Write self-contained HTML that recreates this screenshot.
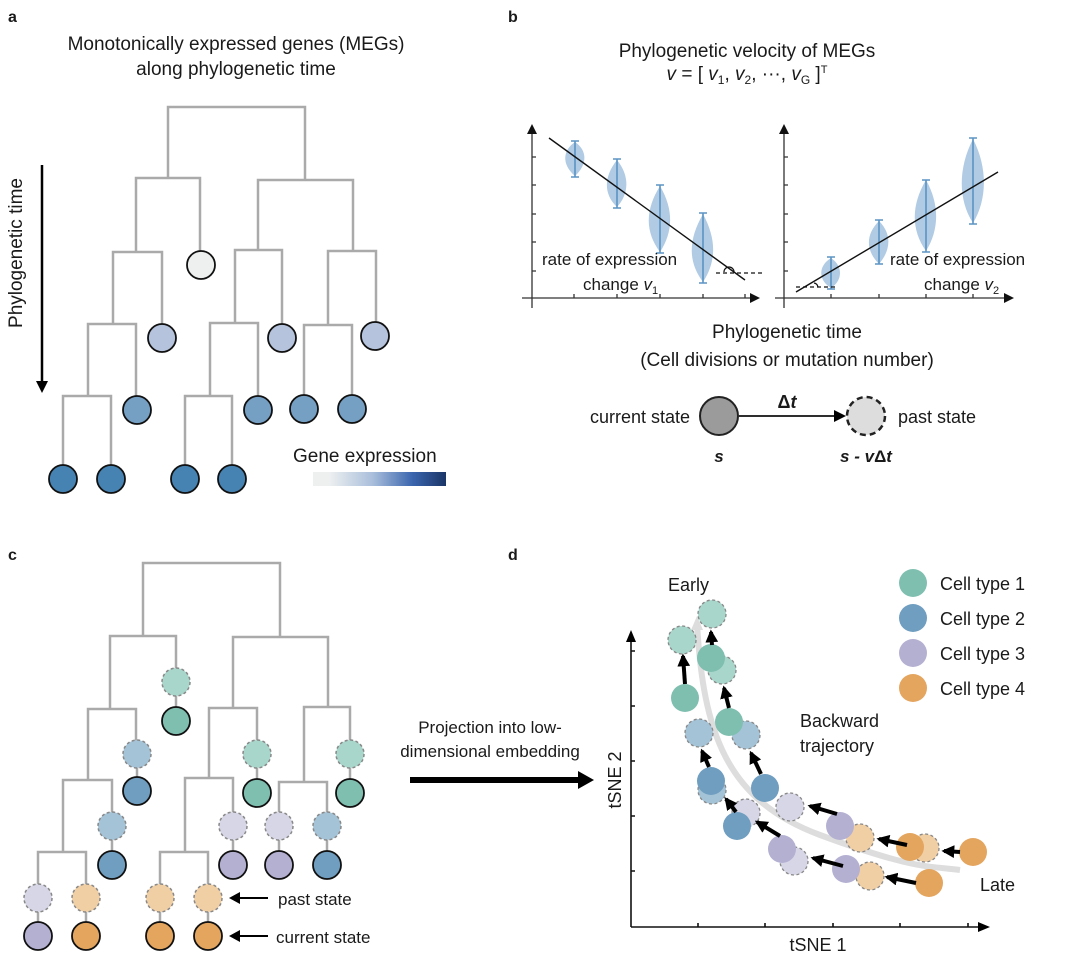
<!DOCTYPE html>
<html><head><meta charset="utf-8"><style>
body{margin:0;background:#fff}
svg text{font-family:"Liberation Sans",sans-serif;fill:#1a1a1a}
</style></head><body>
<svg width="1080" height="972" viewBox="0 0 1080 972" xmlns="http://www.w3.org/2000/svg">
<defs>
<linearGradient id="ge" x1="0" x2="1"><stop offset="0" stop-color="#eef0f0"/><stop offset="0.12" stop-color="#eef0f0"/><stop offset="0.45" stop-color="#a9bedb"/><stop offset="0.75" stop-color="#3a65ae"/><stop offset="1" stop-color="#1b3566"/></linearGradient>
<marker id="ah2" viewBox="0 0 10 10" refX="8" refY="5" markerWidth="3.2" markerHeight="3.2" orient="auto"><path d="M0,0L10,5L0,10z" fill="#000"/></marker>
</defs>
<g font-weight="bold" font-size="16"><text x="8" y="22">a</text><text x="508" y="22">b</text><text x="8" y="560">c</text><text x="508" y="560">d</text></g>

<!-- Panel a -->
<text x="236" y="50" font-size="19" text-anchor="middle">Monotonically expressed genes (MEGs)</text>
<text x="236" y="75" font-size="19" text-anchor="middle">along phylogenetic time</text>
<g stroke="#aaa" stroke-width="2.5" fill="none">
<path d="M168,178V107H305V180"/>
<path d="M136,252V178H200V251"/><path d="M258,250V180H353V251"/>
<path d="M113,324V252H162V324"/><path d="M235,323V250H282V324"/><path d="M328,325V251H376V322"/>
<path d="M88,396V324H136V396"/><path d="M210,396V323H258V396"/><path d="M304,395V325H352V395"/>
<path d="M63,465V396H111V465"/><path d="M185,465V396H232V465"/>
</g>
<g stroke="#111" stroke-width="1.8">
<circle cx="201" cy="265" r="14" fill="#eef0f0"/>
<circle cx="162" cy="338" r="14" fill="#b5c3dc"/><circle cx="282" cy="338" r="14" fill="#b5c3dc"/><circle cx="375" cy="336" r="14" fill="#b5c3dc"/>
<g fill="#769fc4"><circle cx="137" cy="410" r="14"/><circle cx="258" cy="410" r="14"/><circle cx="304" cy="409" r="14"/><circle cx="352" cy="409" r="14"/></g>
<g fill="#4683b2"><circle cx="63" cy="479" r="14"/><circle cx="111" cy="479" r="14"/><circle cx="185" cy="479" r="14"/><circle cx="232" cy="479" r="14"/></g>
</g>
<line x1="42" y1="165" x2="42" y2="385" stroke="#000" stroke-width="2.5"/><path d="M36,381L42,393L48,381z"/>
<text transform="translate(22,253) rotate(-90)" font-size="19" text-anchor="middle">Phylogenetic time</text>
<text x="293" y="462" font-size="19">Gene expression</text>
<rect x="313" y="472" width="133" height="14" fill="url(#ge)"/>

<!-- Panel b -->
<text x="747" y="57" font-size="19" text-anchor="middle">Phylogenetic velocity of MEGs</text>
<text x="747" y="80" font-size="19" text-anchor="middle"><tspan font-style="italic">v</tspan> = [ <tspan font-style="italic">v</tspan><tspan font-size="12" dy="4">1</tspan><tspan dy="-4">, </tspan><tspan font-style="italic">v</tspan><tspan font-size="12" dy="4">2</tspan><tspan dy="-4">, ···, </tspan><tspan font-style="italic">v</tspan><tspan font-size="12" dy="4">G</tspan><tspan dy="-4"> ]</tspan><tspan font-size="11" dy="-7">T</tspan></text>
<g stroke="#333" stroke-width="1.3" fill="none">
<path d="M532,308V132"/><path d="M522,298H752"/>
<path d="M784,308V132"/><path d="M775,298H1006"/>
<path d="M532,157h4M532,185h4M532,214h4M532,242h4M532,271h4"/>
<path d="M784,157h4M784,185h4M784,214h4M784,242h4M784,271h4"/>
<path d="M574,298v-4M617,298v-4M660,298v-4M703,298v-4M745,298v-4"/>
<path d="M831,298v-4M879,298v-4M926,298v-4M973,298v-4"/>
</g>
<path d="M527,134L532,124L537,134z M779,134L784,124L789,134z M750,293L760,298L750,303z M1004,293L1014,298L1004,303z" fill="#111"/>
<g fill="#b0cbe3" stroke="none">
<path d="M575,142C563,150 561,164 575,176C588,164 587,150 575,142z"/>
<path d="M617,160C604,176 603,194 617,207C629,194 630,176 617,160z"/>
<path d="M660,186C645,210 645,232 660,252C673,232 674,210 660,186z"/>
<path d="M703,214C688,240 688,262 703,282C716,262 717,240 703,214z"/>
<path d="M831,258C818,266 818,280 831,288C843,280 843,266 831,258z"/>
<path d="M879,221C866,234 865,250 879,264C891,250 892,234 879,221z"/>
<path d="M926,180C911,205 911,230 926,251C939,230 940,205 926,180z"/>
<path d="M973,139C958,168 958,200 973,223C987,200 988,168 973,139z"/>
</g>
<g stroke="#5b93c4" stroke-width="1.6" fill="none">
<path d="M575,141V177M571,141h8M571,177h8"/>
<path d="M617,159V208M613,159h8M613,208h8"/>
<path d="M660,185V253M656,185h8M656,253h8"/>
<path d="M703,213V283M699,213h8M699,283h8"/>
<path d="M831,257V289M827,257h8M827,289h8"/>
<path d="M879,220V264M875,220h8M875,264h8"/>
<path d="M926,180V252M922,180h8M922,252h8"/>
<path d="M973,138V224M969,138h8M969,224h8"/>
</g>
<line x1="549" y1="138" x2="745" y2="280" stroke="#111" stroke-width="1.4"/>
<line x1="796" y1="292" x2="998" y2="172" stroke="#111" stroke-width="1.4"/>
<g stroke="#111" stroke-width="1.2" stroke-dasharray="4,3" fill="none"><path d="M716,273H762"/><path d="M796,287H838"/></g>
<path d="M734,272a5,5 0 0,0 -10,0" stroke="#111" stroke-width="1.2" fill="none"/>
<path d="M814,283a5,5 0 0,1 4,4" stroke="#111" stroke-width="1.2" fill="none"/>
<g font-size="17">
<text x="542" y="265">rate of expression</text>
<text x="583" y="290">change <tspan font-style="italic">v</tspan><tspan font-size="11" dy="4">1</tspan></text>
<text x="890" y="265">rate of expression</text>
<text x="924" y="290">change <tspan font-style="italic">v</tspan><tspan font-size="11" dy="4">2</tspan></text>
</g>
<text x="787" y="338" font-size="19" text-anchor="middle">Phylogenetic time</text>
<text x="787" y="366" font-size="19" text-anchor="middle">(Cell divisions or mutation number)</text>
<line x1="739" y1="416" x2="838" y2="416" stroke="#111" stroke-width="1.8"/><path d="M834,410L846,416L834,422z"/>
<circle cx="719" cy="416" r="19" fill="#9b9b9b" stroke="#222" stroke-width="2"/>
<circle cx="866" cy="416" r="19" fill="#ddd" stroke="#222" stroke-width="2.5" stroke-dasharray="6,4"/>
<text x="787" y="408" font-size="18" font-weight="bold" text-anchor="middle">Δ<tspan font-style="italic">t</tspan></text>
<text x="690" y="423" font-size="18" text-anchor="end">current state</text>
<text x="898" y="423" font-size="18">past state</text>
<text x="719" y="462" font-size="17" font-weight="bold" font-style="italic" text-anchor="middle">s</text>
<text x="866" y="462" font-size="17" font-weight="bold" font-style="italic" text-anchor="middle">s - v<tspan font-style="normal">Δ</tspan>t</text>

<!-- Panel c -->
<g stroke="#aaa" stroke-width="2.5" fill="none">
<path d="M143,636V563H280V637"/>
<path d="M110,709V636H176V682"/><path d="M233,708V637H328V707"/>
<path d="M88,780V709H136V754"/><path d="M209,778V708H257V754"/><path d="M304,782V707H350V754"/>
<path d="M63,852V780H112V826"/><path d="M185,852V778H233V826"/><path d="M279,826V782H327V826"/>
<path d="M38,898V852H86V898"/><path d="M160,898V852H208V898"/>
<path d="M176,682V721M137,754V791M257,754V793M350,754V793M112,826V865M233,826V865M279,826V865M327,826V865M38,898V936M86,898V936M160,898V936M208,898V936"/>
</g>
<g stroke="#888" stroke-width="1.5" stroke-dasharray="3,2.5">
<circle cx="176" cy="682" r="14" fill="#a8d6cb"/><circle cx="257" cy="754" r="14" fill="#a8d6cb"/><circle cx="350" cy="754" r="14" fill="#a8d6cb"/>
<circle cx="137" cy="754" r="14" fill="#a4c3d6"/><circle cx="112" cy="826" r="14" fill="#a4c3d6"/><circle cx="327" cy="826" r="14" fill="#a4c3d6"/>
<circle cx="233" cy="826" r="14" fill="#d6d6e6"/><circle cx="279" cy="826" r="14" fill="#d6d6e6"/><circle cx="38" cy="898" r="14" fill="#d6d6e6"/>
<circle cx="86" cy="898" r="14" fill="#f1cfa5"/><circle cx="160" cy="898" r="14" fill="#f1cfa5"/><circle cx="208" cy="898" r="14" fill="#f1cfa5"/>
</g>
<g stroke="#111" stroke-width="1.8">
<circle cx="176" cy="721" r="14" fill="#7fbfb0"/><circle cx="257" cy="793" r="14" fill="#7fbfb0"/><circle cx="350" cy="793" r="14" fill="#7fbfb0"/>
<circle cx="137" cy="791" r="14" fill="#6f9ec0"/><circle cx="112" cy="865" r="14" fill="#6f9ec0"/><circle cx="327" cy="865" r="14" fill="#6f9ec0"/>
<circle cx="233" cy="865" r="14" fill="#b4b0d2"/><circle cx="279" cy="865" r="14" fill="#b4b0d2"/><circle cx="38" cy="936" r="14" fill="#b4b0d2"/>
<circle cx="86" cy="936" r="14" fill="#e4a55e"/><circle cx="160" cy="936" r="14" fill="#e4a55e"/><circle cx="208" cy="936" r="14" fill="#e4a55e"/>
</g>
<g stroke="#000" stroke-width="2"><line x1="268" y1="898" x2="236" y2="898"/><line x1="268" y1="936" x2="236" y2="936"/></g>
<path d="M240,892L229,898L240,904z M240,930L229,936L240,942z"/>
<text x="278" y="905" font-size="17">past state</text>
<text x="276" y="943" font-size="17">current state</text>
<text x="490" y="733" font-size="17" text-anchor="middle">Projection into low-</text>
<text x="490" y="757" font-size="17" text-anchor="middle">dimensional embedding</text>
<line x1="410" y1="780" x2="582" y2="780" stroke="#000" stroke-width="6"/><path d="M578,771L594,780L578,789z"/>

<!-- Panel d -->
<path d="M697,623C703,730 725,800 820,835S930,866 960,870" stroke="#ddd" stroke-width="6" fill="none"/>
<path d="M691,630L697,616L703,630z" fill="#ddd"/>
<g stroke="#111" stroke-width="1.6" fill="none">
<path d="M631,927V640"/><path d="M631,927H980"/>
<path d="M631,651h4M631,706h4M631,761h4M631,816h4M631,871h4"/>
<path d="M698,927v-4M765,927v-4M833,927v-4M900,927v-4M968,927v-4"/>
</g>
<path d="M626,642L631,630L636,642z M978,922L990,927L978,932z"/>
<g stroke="#888" stroke-width="1.3" stroke-dasharray="3,2.5">
<circle cx="712" cy="614" r="14" fill="#a8d6cb"/><circle cx="682" cy="640" r="14" fill="#a8d6cb"/><circle cx="722" cy="670" r="14" fill="#a8d6cb"/>
<circle cx="699" cy="733" r="14" fill="#a4c3d6"/><circle cx="746" cy="735" r="14" fill="#a4c3d6"/><circle cx="712" cy="790" r="14" fill="#a4c3d6"/>
<circle cx="746" cy="813" r="14" fill="#d6d6e6"/><circle cx="790" cy="807" r="14" fill="#d6d6e6"/><circle cx="794" cy="861" r="14" fill="#d6d6e6"/>
<circle cx="860" cy="838" r="14" fill="#f1cfa5"/><circle cx="925" cy="848" r="14" fill="#f1cfa5"/><circle cx="870" cy="876" r="14" fill="#f1cfa5"/>
</g>
<g stroke="none">
<circle cx="711" cy="658" r="14" fill="#7fbfb0"/><circle cx="685" cy="698" r="14" fill="#7fbfb0"/><circle cx="729" cy="722" r="14" fill="#7fbfb0"/>
<circle cx="711" cy="781" r="14" fill="#6f9ec0"/><circle cx="765" cy="788" r="14" fill="#6f9ec0"/><circle cx="737" cy="826" r="14" fill="#6f9ec0"/>
<circle cx="840" cy="826" r="14" fill="#b4b0d2"/><circle cx="782" cy="849" r="14" fill="#b4b0d2"/><circle cx="846" cy="869" r="14" fill="#b4b0d2"/>
<circle cx="910" cy="847" r="14" fill="#e4a55e"/><circle cx="973" cy="852" r="14" fill="#e4a55e"/><circle cx="929" cy="883" r="14" fill="#e4a55e"/>
</g>
<g stroke="#000" stroke-width="4" marker-end="url(#ah2)">
<line x1="685" y1="684" x2="683" y2="656"/><line x1="712" y1="645" x2="711" y2="632"/>
<line x1="729" y1="708" x2="724" y2="688"/><line x1="709" y1="767" x2="702" y2="751"/>
<line x1="761" y1="774" x2="751" y2="753"/><line x1="736" y1="812" x2="726" y2="799"/>
<line x1="780" y1="836" x2="757" y2="822"/><line x1="837" y1="814" x2="810" y2="806"/>
<line x1="843" y1="866" x2="813" y2="858"/><line x1="907" y1="845" x2="879" y2="839"/>
<line x1="960" y1="852" x2="944" y2="851"/><line x1="916" y1="883" x2="887" y2="877"/>
</g>
<circle cx="913" cy="583" r="14" fill="#7fbfb0"/><circle cx="913" cy="618" r="14" fill="#6f9ec0"/>
<circle cx="913" cy="653" r="14" fill="#b4b0d2"/><circle cx="913" cy="688" r="14" fill="#e4a55e"/>
<g font-size="18">
<text x="940" y="590">Cell type 1</text><text x="940" y="625">Cell type 2</text>
<text x="940" y="660">Cell type 3</text><text x="940" y="695">Cell type 4</text>
<text x="668" y="591">Early</text>
<text x="800" y="727">Backward</text><text x="800" y="752">trajectory</text>
<text x="980" y="891">Late</text>
<text x="818" y="951" text-anchor="middle">tSNE 1</text>
<text transform="translate(621,780) rotate(-90)" text-anchor="middle">tSNE 2</text>
</g>
</svg>
</body></html>
